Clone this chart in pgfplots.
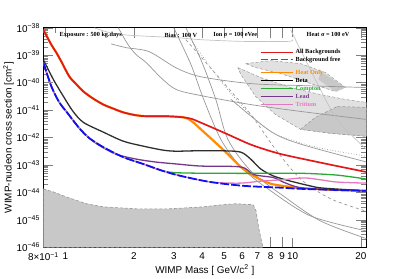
\documentclass[border=0pt]{standalone}
\usepackage{fontspec}
\setmainfont{Liberation Sans}
\newfontfamily\tnr{Liberation Serif}
\usepackage{pgfplots}
\pgfplotsset{compat=1.18}
\definecolor{cRed}{RGB}{225,25,25}
\definecolor{cOrange}{RGB}{255,140,0}
\definecolor{cBlack}{RGB}{45,45,45}
\definecolor{cGreen}{RGB}{40,170,50}
\definecolor{cPurple}{RGB}{115,55,140}
\definecolor{cPink}{RGB}{230,120,190}
\definecolor{cBlue}{RGB}{15,15,245}
\definecolor{cLBlue}{RGB}{45,85,255}
\definecolor{cGray}{RGB}{150,150,150}
\definecolor{cLGray}{RGB}{195,195,195}
\definecolor{cFill}{RGB}{200,200,200}
\definecolor{cFillL}{RGB}{225,225,225}
\begin{document}
\begin{tikzpicture}
\begin{axis}[name=ax,
  scale only axis, width=325bp, height=221bp,
  xmode=log, ymode=log,
  xmin=0.8, xmax=21.1, ymin=1e-46, ymax=1e-38,
  axis line style={line width=0.8pt},
  tick style={line width=0.5pt},
  major tick length=10bp, minor tick length=5bp,
  xtick={0.8,2,3,4,5,6,7,8,9,20},
  xticklabels={8×10\textsuperscript{−1},2,3,4,5,6,7,8,9,20},
  extra x ticks={1,10}, extra x tick labels={1,10},
  extra x tick style={major tick length=9bp},
  minor xtick={0.9},
  xticklabel style={font=\fontsize{10}{10}\selectfont, yshift=-1.5bp},
  ytick={1e-46,1e-45,1e-44,1e-43,1e-42,1e-41,1e-40,1e-39,1e-38},
  yticklabels={10\textsuperscript{−46},10\textsuperscript{−45},10\textsuperscript{−44},10\textsuperscript{−43},10\textsuperscript{−42},10\textsuperscript{−41},10\textsuperscript{−40},10\textsuperscript{−39},10\textsuperscript{−38}},
  yticklabel style={font=\fontsize{10}{10}\selectfont},
  xlabel={WIMP Mass [ GeV/c\textsuperscript{2} ]},
  ylabel={WIMP-nucleon cross section [cm\textsuperscript{2}]},
  label style={font=\fontsize{10}{12}\selectfont},
  xlabel style={yshift=3bp},
  ylabel style={yshift=-4bp},
  clip=true,
]
% ---------- excluded region at the bottom ----------
\addplot[fill=cFill, draw=cGray, densely dashed, line width=0.6pt, forget plot] coordinates {
(0.8,1.35e-44)(0.886,1.05e-44)(1.01,6.9e-45)(1.24,3.9e-45)(1.47,3e-45)(2.05,2.55e-45)(2.86,2.55e-45)(4.03,3e-45)(4.74,3.5e-45)(5.6,3.9e-45)(6.7,3.6e-45)(6.9,2.2e-45)(7.1,5e-46)(7.4,1e-46)(0.8,1e-46)} -- cycle;
% ---------- shaded regions top right ----------
\addplot[fill=cFillL, draw=cGray, densely dashed, line width=0.5pt, forget plot] coordinates {
(5.74,3.56e-40)(7.24,1.54e-40)(9.81,6.7e-41)(13.28,3.7e-41)(17.08,2.46e-41)(21.1,1.92e-41)(21.1,1.12e-42)(14.69,1.44e-42)(10.85,2.0e-42)(8.4,7e-42)(6.88,3.16e-41)(5.92,2e-40)} -- cycle;
\addplot[fill=cFill, draw=cGray, densely dashed, line width=0.5pt, forget plot] coordinates {
(15.75,1.37e-41)(21.1,1.26e-41)(21.1,1.12e-42)(14.69,1.44e-42)(10.85,2.0e-42)(12.62,5.5e-42)} -- cycle;
\addplot[fill=cFillL, draw=cGray, densely dashed, line width=0.5pt, forget plot] coordinates {
(6.22,4.97e-40)(8.01,6.37e-40)(10.85,4.97e-40)(13.96,2.34e-40)(17.08,6.7e-41)(15.44,4.8e-41)(12.0,9.35e-41)(8.87,2.15e-40)(6.88,3.56e-40)} -- cycle;
\addplot[fill=cFill, draw=none, forget plot] coordinates {
(13.28,2.55e-40)(17.08,6.7e-41)(15.44,4.8e-41)(13.0,1.3e-40)} -- cycle;
% ---------- other experiments ----------
\addplot[cLGray, line width=0.7pt, smooth, forget plot] coordinates {(1.34,1e-38)(1.59,6.5e-39)(1.95,5.3e-39)(3.07,4.4e-39)(3.95,3.7e-39)(6.1,3.2e-39)(9.5,3.2e-39)(10,3.7e-39)};
\addplot[cGray, line width=0.7pt, smooth, forget plot] coordinates {(1.71,1e-38)(1.89,2.4e-39)(2.05,1.05e-39)(2.27,5.4e-40)(2.64,1.5e-40)(3.07,5.7e-41)(3.95,3.4e-41)(6.55,1.6e-41)(10.85,9e-42)(21.1,4.6e-42)};
\addplot[cGray, line width=0.7pt, smooth, forget plot] coordinates {(1.59,2.6e-39)(1.85,1.9e-39)(2.34,1.35e-39)(3.07,3.5e-40)(3.95,1.65e-40)(6.55,9.3e-41)(10.85,7.9e-41)(21.1,6.7e-41)};
\addplot[cGray, line width=0.7pt, smooth, forget plot] coordinates {(3.0,1e-38)(3.57,4.6e-40)(4.06,2.5e-41)(4.83,8.7e-43)(5.92,8.5e-44)(7.8,1.35e-44)(12,1.4e-45)(21.1,4e-46)};
\addplot[cGray, line width=0.7pt, smooth, forget plot] coordinates {(3.39,1e-38)(3.95,6.9e-40)(4.59,2.5e-41)(5.19,8.7e-43)(6.55,6.1e-44)(9.1,7.5e-45)(13.28,9.2e-46)(21.1,2.1e-46)};
\addplot[cGray, line width=0.7pt, dashed, smooth, forget plot] coordinates {(3.39,3.7e-39)(4.83,1.3e-40)(6.55,7e-42)(8.4,3.8e-43)(10.85,3.1e-44)(14.7,5.9e-45)(21.1,2.1e-45)};
\addplot[cGray, line width=0.7pt, dotted, smooth, forget plot] coordinates {(3.57,3.7e-39)(4.59,2e-40)(5.92,1.6e-41)(8.0,1.7e-42)(12.3,4.8e-43)(21.1,2.1e-43)};
\addplot[cGray, line width=0.7pt, smooth, forget plot] coordinates {(5.35,2.5e-41)(8.0,1.7e-42)(10.85,5.8e-43)(21.1,1.3e-43)};
\addplot[cLGray, line width=0.7pt, smooth, forget plot] coordinates {(9.8,8.5e-39)(12.6,1.3e-40)(15.7,4.6e-42)(21.1,3.8e-43)};
% ---------- sensitivity curves ----------
% Heat only
\addplot[cOrange, line width=2.2pt, smooth, forget plot] coordinates {
(0.8,8.5e-39)(0.868,2.4e-39)(0.913,1.24e-39)(0.96,5.9e-40)(1.04,1.7e-40)(1.12,8.6e-41)(1.2,4.8e-41)(1.32,2.7e-41)(1.47,1.6e-41)(1.62,1.15e-41)(1.8,8.3e-42)(2.05,6.5e-42)(2.3,6e-42)(2.8,6e-42)(3.3,5.5e-42)(3.46,4.9e-42)(3.7,3.3e-42)(3.95,2e-42)(4.5,7.5e-43)(5.19,2.5e-43)(5.92,8.5e-44)(6.75,4e-44)(8.0,2.1e-44)(9.8,1.6e-44)(10.8,1.45e-44)(15,1.25e-44)(21.1,1.15e-44)};
% All backgrounds
\addplot[cRed, line width=1.7pt, smooth, forget plot] coordinates {
(0.8,8.5e-39)(0.868,2.4e-39)(0.913,1.24e-39)(0.96,5.9e-40)(1.04,1.7e-40)(1.12,8.6e-41)(1.2,4.8e-41)(1.32,2.7e-41)(1.47,1.6e-41)(1.62,1.15e-41)(1.8,8.3e-42)(2.05,6.5e-42)(2.3,6e-42)(2.8,6e-42)(3.3,5.5e-42)(3.6,4.8e-42)(3.95,3.5e-42)(4.5,2.2e-42)(5.2,1.3e-42)(6.5,5.7e-43)(8.0,3.2e-43)(8.9,2.5e-43)(11.2,1.65e-43)(15.7,9.2e-44)(21.1,5.6e-44)};
% Beta
\addplot[cBlack, line width=1.3pt, smooth, forget plot] coordinates {
(0.8,6.9e-40)(0.886,1.3e-40)(0.98,3.2e-41)(1.08,9.1e-42)(1.2,3.6e-42)(1.47,1.58e-42)(1.8,7.4e-43)(2.2,4.9e-43)(2.69,3.5e-43)(3.07,3.2e-43)(3.68,3.3e-43)(4.98,3.3e-43)(5.92,2.95e-43)(6.54,1.65e-43)(7.24,7.2e-44)(8.24,4e-44)(9.8,2.6e-44)(12.0,1.73e-44)(13.6,1.45e-44)(21.1,1.15e-44)};
% Lead
\addplot[cPurple, line width=1.3pt, smooth, forget plot] coordinates {
(0.8,5.4e-40)(0.868,7.3e-41)(0.941,1.9e-41)(1.01,8.9e-42)(1.152,2.2e-42)(1.274,9.6e-43)(1.41,5.2e-43)(1.67,2.5e-43)(2.05,1.65e-43)(2.5,1.29e-43)(3.07,1.1e-43)(3.95,9.2e-44)(5.92,8.5e-44)(6.75,4.5e-44)(8.24,3.5e-44)(9.1,2.4e-44)(10.8,1.5e-44)(15,1.25e-44)(21.1,1.15e-44)};
% Compton
\addplot[cGreen, line width=1.3pt, smooth, forget plot] coordinates {
(0.8,5.4e-40)(0.868,7.3e-41)(0.941,1.9e-41)(1.01,8.9e-42)(1.152,2.2e-42)(1.274,9.6e-43)(1.468,4.5e-43)(1.796,1.95e-43)(2.198,1.1e-43)(2.69,6.1e-44)(3.2,5.2e-44)(5,5e-44)(8.9,5e-44)(11.2,5e-44)(15.7,4.3e-44)(21.1,3.1e-44)};
% Tritium
\addplot[cPink, line width=1.3pt, smooth, forget plot] coordinates {
(0.8,5.4e-40)(0.868,7.3e-41)(0.941,1.9e-41)(1.01,8.9e-42)(1.152,2.2e-42)(1.274,9.6e-43)(1.468,4.5e-43)(1.796,1.95e-43)(2.198,1.1e-43)(2.69,6.1e-44)(3.23,4e-44)(4.37,2.4e-44)(5.9,2.2e-44)(7.24,2.6e-44)(8.87,2.9e-44)(11.2,3.4e-44)(13.3,2.9e-44)(15.7,2.4e-44)(21.1,2.2e-44)};
% Background free
\addplot[cBlue, line width=1.8pt, dash pattern=on 9bp off 2bp, smooth, forget plot] coordinates {
(0.8,5.4e-40)(0.868,7.3e-41)(0.941,1.9e-41)(1.01,8.9e-42)(1.152,2.2e-42)(1.274,9.6e-43)(1.468,4.5e-43)(1.796,1.95e-43)(2.198,1.1e-43)(2.69,6.1e-44)(3.23,4e-44)(4.37,2.4e-44)(6.10,1.75e-44)(8.87,1.5e-44)(11.2,1.35e-44)(21.1,1.15e-44)};
% ---------- legend (sample lines) ----------
\addplot[cRed, line width=1.2pt, forget plot] coordinates {(7.24,1.27e-39)(10.0,1.27e-39)};
\addplot[cLBlue, line width=1.4pt, dash pattern=on 7bp off 3bp, forget plot] coordinates {(7.24,6.93e-40)(10.0,6.93e-40)};
\addplot[cOrange, line width=1.2pt, forget plot] coordinates {(7.24,2.29e-40)(10.0,2.29e-40)};
\addplot[black, line width=1.2pt, forget plot] coordinates {(7.24,1.20e-40)(10.0,1.20e-40)};
\addplot[cGreen, line width=1.2pt, forget plot] coordinates {(7.24,6.01e-41)(10.0,6.01e-41)};
\addplot[cPurple, line width=1.2pt, forget plot] coordinates {(7.24,3.08e-41)(10.0,3.08e-41)};
\addplot[cPink, line width=1.2pt, forget plot] coordinates {(7.24,1.62e-41)(10.0,1.62e-41)};
\begin{scope}[every node/.style={font=\tnr\bfseries\fontsize{6.3}{7}\selectfont, anchor=west, inner sep=0pt}]
\node at (axis cs:10.3,1.27e-39) {All Backgrounds};
\node at (axis cs:10.3,6.93e-40) {Background free};
\node[text=cOrange] at (axis cs:10.3,2.29e-40) {Heat Only};
\node at (axis cs:10.3,1.20e-40) {Beta};
\node[text=cGreen] at (axis cs:10.3,6.01e-41) {Compton};
\node[text=cPurple] at (axis cs:10.3,3.08e-41) {Lead};
\node[text=cPink] at (axis cs:10.3,1.62e-41) {Tritium};
% ---------- annotations ----------
\node at (rel axis cs:0.05,0.9675) {Exposure : 500 kg.days};
\node at (rel axis cs:0.375,0.9675) {Bias : 100 V};
\node at (rel axis cs:0.526,0.9675) {Ion σ = 100 eVee};
\node at (rel axis cs:0.815,0.9675) {Heat σ = 100 eV};
\end{scope}
\end{axis}
\path ([xshift=-41bp,yshift=-28bp]ax.south west) rectangle ([xshift=41bp,yshift=28bp]ax.north east);
\end{tikzpicture}
\end{document}
